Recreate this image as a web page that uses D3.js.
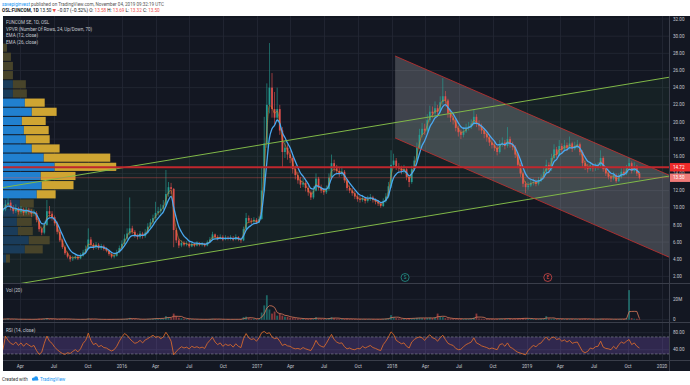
<!DOCTYPE html>
<html lang="en">
<head>
<meta charset="UTF-8">
<title>OSL:FUNCOM 1D</title>
<script src="https://d3js.org/d3.v7.min.js"></script>
<style>
  html, body { margin: 0; padding: 0; background: #fff; }
  svg { display: block; font-family: Roboto, "Open Sans", "DejaVu Sans", sans-serif; }
</style>
</head>
<body>
<svg id="chart" width="690" height="385"></svg>
<script>
// weekly bars, first bar is the week of 2015-02-13
const firstBar = "2015-02-13";
const firstOpen = 9.6;
const closes = [
  9.8,10.4,10.6,10.0,9.6,9.9,9.5,9.8,9.4,9.7,
  9.5,9.3,9.4,8.6,7.5,7.1,8.0,9.6,9.3,8.9,
  8.2,7.2,6.2,5.4,4.7,4.3,4.0,4.1,4.3,4.1,
  4.4,4.8,5.2,6.3,5.7,5.4,5.7,5.3,5.5,5.2,
  5.0,4.6,4.3,4.4,4.8,5.3,5.8,6.4,7.0,7.6,
  7.2,6.8,6.6,7.0,6.7,7.1,7.8,8.3,8.8,9.4,
  9.6,9.9,10.3,11.6,12.4,12.2,7.4,6.2,5.6,5.9,
  5.7,5.8,5.5,5.8,5.6,5.9,5.7,5.8,5.6,6.0,
  6.3,6.9,6.6,6.4,6.6,6.3,6.5,6.4,6.5,6.3,
  6.6,6.3,6.2,7.5,8.8,8.5,8.4,8.6,8.3,8.7,
  12.0,17.5,22.0,24.0,21.5,20.5,21.5,19.0,16.5,17.0,
  16.2,15.8,14.5,13.8,13.2,12.7,12.9,12.3,11.8,11.2,
  12.0,13.4,12.3,12.0,11.8,12.2,13.5,15.2,14.6,14.3,
  14.0,14.2,13.2,12.3,12.0,11.7,11.3,11.0,10.9,11.1,
  10.8,11.0,11.2,10.9,10.7,10.5,10.2,10.8,11.3,12.5,
  15.0,15.5,14.8,14.6,14.3,14.5,13.6,13.0,14.5,15.5,
  17.0,18.5,19.2,19.0,20.2,21.2,21.0,21.6,21.2,22.3,
  23.0,22.5,21.0,20.5,20.2,19.3,18.8,18.5,18.9,19.3,
  19.5,19.8,20.6,19.8,19.5,19.0,18.6,18.2,17.6,17.3,
  17.0,16.5,17.4,17.6,17.2,18.0,17.4,17.1,16.2,15.0,
  14.0,12.8,12.4,12.6,12.9,13.0,12.8,13.2,13.5,14.2,
  15.0,14.5,15.8,16.8,16.2,17.2,16.8,17.3,17.0,17.5,
  16.9,17.2,17.4,16.5,15.2,14.8,14.5,14.9,14.6,14.8,
  14.9,15.8,14.5,14.0,13.6,13.4,13.8,13.1,13.6,14.2,
  14.0,14.6,15.2,14.3,14.8,14.0,13.5
];
const highs = [
  10.3,10.9,11.3,10.9,10.3,10.4,10.1,10.2,10.0,10.1,
  10.0,9.8,9.8,9.6,8.8,7.8,8.4,10.9,10.2,9.6,
  9.1,8.4,7.4,6.4,5.6,4.9,4.5,4.4,4.6,4.5,
  4.7,5.1,5.6,7.6,6.6,5.9,6.0,5.9,5.8,5.7,
  5.4,5.1,4.8,4.7,5.1,5.6,6.2,6.9,7.6,11.2,
  7.9,7.4,7.0,7.3,7.2,7.5,8.2,8.7,9.2,10.7,
  10.1,10.4,10.9,14.4,13.0,12.9,12.3,7.6,6.4,6.2,
  6.1,6.1,6.0,6.0,5.9,6.1,6.0,6.0,5.9,6.2,
  6.6,7.2,7.0,6.8,6.9,6.8,6.8,6.7,6.8,6.7,
  6.9,6.7,6.5,7.8,9.4,9.1,8.8,8.9,8.8,9.0,
  14.7,20.6,24.5,29.2,25.7,23.5,24.0,22.0,19.4,17.8,
  17.4,16.7,16.0,14.9,14.2,13.6,13.5,13.2,12.6,12.0,
  12.5,14.0,13.6,12.7,12.3,12.6,14.0,16.2,15.6,15.0,
  14.7,14.8,14.4,13.4,12.6,12.3,12.0,11.6,11.4,11.5,
  11.3,11.4,11.6,11.4,11.1,10.9,10.7,11.1,11.7,13.0,
  16.7,16.3,15.8,15.2,14.9,15.0,14.7,13.8,14.9,16.0,
  17.6,19.2,19.9,19.8,20.9,21.9,21.8,22.4,22.0,23.0,
  25.1,23.6,22.7,21.4,21.0,20.4,19.6,19.1,19.4,19.8,
  20.0,20.3,21.4,20.9,20.2,19.8,19.3,18.9,18.5,18.0,
  17.7,17.2,17.9,18.2,17.9,19.4,18.3,17.7,17.3,16.4,
  15.2,14.2,13.1,13.0,13.3,13.4,13.3,13.6,13.9,14.7,
  15.6,15.3,16.3,17.4,17.1,17.9,17.5,17.9,17.6,18.3,
  17.7,17.7,17.9,17.6,16.7,15.5,15.1,15.3,15.2,15.2,
  15.3,16.7,16.0,14.8,14.3,13.9,14.2,14.0,14.0,14.6,
  14.6,15.0,15.8,15.4,15.3,15.0,14.1
];
const lows = [
  9.2,9.6,10.1,9.7,9.3,9.4,9.2,9.3,9.1,9.2,
  9.2,8.9,9.0,8.3,7.2,6.8,6.9,7.9,8.9,8.5,
  7.9,6.9,6.0,5.2,4.5,4.1,3.7,3.8,4.0,3.9,
  4.0,4.3,4.7,5.1,5.4,5.1,5.2,5.1,5.1,5.0,
  4.8,4.4,4.1,4.1,4.3,4.7,5.2,5.7,6.2,6.8,
  6.9,6.5,6.3,6.4,6.4,6.5,7.0,7.6,8.1,8.6,
  9.1,9.3,9.7,10.1,11.3,11.6,5.4,5.9,5.3,5.4,
  5.5,5.5,5.3,5.4,5.4,5.5,5.5,5.5,5.4,5.5,
  5.9,6.2,6.4,6.2,6.3,6.1,6.2,6.2,6.2,6.1,
  6.2,6.1,5.9,6.1,7.4,8.2,8.1,8.2,8.1,8.2,
  8.6,11.8,17.0,21.0,20.5,19.5,20.0,18.5,14.7,15.8,
  15.6,15.2,14.0,13.3,12.8,12.3,12.4,11.9,11.4,10.9,
  11.0,11.9,12.0,11.7,11.5,11.6,12.0,13.3,14.2,13.9,
  13.6,13.7,12.9,12.0,11.7,11.4,11.0,10.7,10.6,10.7,
  10.5,10.6,10.8,10.6,10.4,10.2,10.0,10.1,10.6,11.1,
  12.3,14.6,14.4,14.2,13.9,14.0,13.2,12.4,12.8,14.3,
  15.3,16.8,18.2,18.5,18.8,20.0,20.5,20.7,20.6,21.0,
  22.0,21.8,20.5,20.0,19.7,18.9,18.3,18.0,18.2,18.7,
  19.0,19.2,19.6,19.4,19.0,18.6,18.1,17.7,17.2,16.9,
  16.6,16.1,16.3,17.1,16.8,17.0,17.0,16.7,15.8,14.6,
  13.6,12.4,11.7,12.1,12.4,12.6,12.5,12.6,13.0,13.3,
  14.0,14.1,14.3,15.6,15.8,16.0,16.4,16.6,16.6,16.8,
  16.5,16.7,16.9,16.1,14.8,14.4,14.1,14.3,14.2,14.3,
  14.4,14.7,14.2,13.7,13.3,13.0,13.2,12.9,13.0,13.4,
  13.7,13.8,14.4,14.0,14.1,13.7,13.3
];
// volume in millions
const volumes = [
  0.6,0.8,1.0,0.6,0.5,0.6,0.4,0.5,0.4,0.5,
  0.4,0.4,0.4,0.7,0.9,0.8,0.9,1.5,0.8,0.6,
  0.6,0.7,0.8,0.9,0.7,0.6,0.5,0.4,0.4,0.3,
  0.4,0.5,0.5,1.2,0.7,0.5,0.4,0.4,0.4,0.3,
  0.3,0.4,0.5,0.4,0.4,0.5,0.6,0.8,0.9,1.8,
  0.8,0.6,0.5,0.5,0.5,0.6,0.8,0.9,1.0,1.5,
  1.1,1.2,1.4,3.5,2.5,1.5,6.0,3.5,2.0,1.4,
  1.0,0.8,0.7,0.6,0.5,0.5,0.4,0.4,0.4,0.5,
  0.6,0.9,0.6,0.5,0.5,0.4,0.4,0.4,0.4,0.4,
  0.5,0.4,0.5,2.5,3.0,1.5,1.0,0.9,0.8,1.0,
  7.0,14.0,24.0,10.0,6.0,8.0,4.0,6.0,4.0,3.0,
  3.0,2.0,2.0,1.5,1.2,1.0,1.0,1.0,0.9,1.2,
  1.0,2.5,1.2,0.9,0.8,0.9,1.5,2.5,1.5,1.0,
  0.9,0.8,1.0,1.0,0.8,0.7,0.7,0.6,0.6,0.7,
  0.6,0.6,0.6,0.5,0.5,0.6,0.6,0.8,1.0,1.5,
  4.5,2.5,1.5,1.2,1.0,1.0,1.2,1.5,1.3,1.5,
  1.8,2.0,1.6,1.5,1.8,2.0,1.6,2.0,6.0,3.0,
  2.5,1.5,1.3,1.2,1.0,1.0,0.9,0.9,0.8,0.9,
  1.0,1.2,2.0,6.0,1.2,1.0,0.9,0.8,0.9,0.8,
  0.7,0.8,1.0,1.0,0.9,1.2,1.0,0.8,1.0,1.2,
  1.3,1.5,1.4,1.0,0.9,0.8,0.8,0.9,1.0,1.2,
  3.5,1.2,1.0,1.1,0.9,0.9,0.8,0.8,0.8,0.9,
  0.8,0.7,0.7,0.8,1.0,0.9,0.7,0.6,0.6,0.6,
  0.6,0.9,0.8,0.6,0.6,0.5,0.6,0.6,0.6,0.7,
  0.7,1.2,29.0,1.5,1.0,0.9,0.8
];
const rsiValues = [
  40,72,62,55,52,58,50,56,48,55,
  51,47,50,38,29,34,55,72,60,55,
  46,40,35,31,29,33,31,36,40,35,
  42,55,62,79,62,52,55,47,50,45,
  44,40,37,40,48,60,70,78,74,66,
  60,55,57,62,56,63,66,70,74,69,
  71,66,70,81,72,60,28,36,42,47,
  44,46,42,48,45,47,44,46,43,55,
  62,69,58,52,56,48,53,50,52,46,
  54,48,45,66,78,68,64,66,60,68,
  80,83,78,80,70,66,68,60,50,53,
  49,48,44,42,43,41,45,42,40,38,
  48,62,52,48,46,55,66,76,64,58,
  55,56,47,42,44,41,40,43,42,48,
  44,47,50,45,43,40,38,52,60,70,
  82,76,62,58,54,56,48,44,58,64,
  68,70,68,62,70,75,68,66,60,68,
  74,64,55,52,50,43,40,41,47,52,
  55,58,68,56,53,49,47,45,42,44,
  42,40,52,54,48,56,46,43,38,34,
  32,30,28,38,45,50,47,53,56,64,
  70,62,68,70,64,66,60,63,58,62,
  55,57,58,47,36,33,36,44,42,47,
  48,60,46,43,42,40,48,42,52,58,
  55,60,64,52,56,48,44
];

// volume profile, 24 rows, top row first
const vpUp   = [0,0,0,0,10,10,22,29,19,21,23,29,41,52,38,39,34,17,14,14,15,26,22,3];
const vpDown = [4,8,10,10,13,14,20,25,24,25,24,28,67,62,35,32,19,14,16,15,15,21,18,4];
const vpRange = [3.55, 29.2];
const valueAreaPct = 0.70;

const timeTicks = ["2015-04-01","2015-07-01","2015-10-01","2016-01-01","2016-04-01","2016-07-01",
  "2016-10-01","2017-01-01","2017-04-01","2017-07-01","2017-10-01","2018-01-01","2018-04-01",
  "2018-07-01","2018-10-01","2019-01-01","2019-04-01","2019-07-01","2019-10-01","2020-01-01"];
const priceTicks = [2,4,6,8,10,12,14,16,18,20,22,24,26,28,30,32];
const volTicks = [0, 20];
const rsiTicks = [40, 80];

// drawings: [date, price]
const greenUpper = [["2016-01-01", 14.65], ["2019-01-01", 22.47]];
const greenLower = [["2016-01-01", 3.13], ["2019-01-01", 10.95]];
const redUpper = [["2018-01-09", 27.69], ["2019-01-01", 21.0]];
const redLower = [["2018-01-09", 18.13], ["2019-01-01", 11.44]];
const levelLine = 14.72;
const events = [["2018-02-05", "S"], ["2019-02-26", "E"]];
const quote = { open: 13.58, high: 13.69, low: 13.32, close: 13.50, change: -0.07, pct: -0.52 };

const svg = d3.select("#chart");
const L = 3, R = 669, W = 690;
const mainTop = 16, mainBot = 283, volBot = 322, rsiBot = 360, axisBot = 371;
const bg = "#131722", grid = "#242835", txt = "#c5c8d0";
const up = "#26a69a", down = "#ef5350";

const parse = d3.utcParse("%Y-%m-%d");
const start = parse(firstBar);
const bars = closes.map((c, i) => ({
  date: d3.utcDay.offset(start, 7 * i),
  open: i ? closes[i - 1] : firstOpen,
  close: c, high: highs[i], low: lows[i], vol: volumes[i], rsi: rsiValues[i]
}));

const x = d3.scaleUtc().domain([parse("2015-01-01"), parse("2020-01-01")]).range([-13, 662]);
const y = d3.scaleLinear().domain([2, 32]).range([276.4, 19]);
const yVol = d3.scaleLinear().domain([0, 20]).range([319.7, 299.3]);
const yRsi = d3.scaleLinear().domain([40, 80]).range([349.7, 332.7]);

// background
svg.append("rect").attr("x", L).attr("y", mainTop).attr("width", W - L).attr("height", axisBot - mainTop).attr("fill", bg);

const defs = svg.append("defs");
[["clipMain", mainTop, mainBot], ["clipVol", mainBot, volBot], ["clipRsi", volBot, rsiBot]].forEach(([id, t, b]) => {
  defs.append("clipPath").attr("id", id).append("rect").attr("x", L).attr("y", t).attr("width", R - L).attr("height", b - t);
});

// grid
const g = svg.append("g").attr("stroke", grid).attr("stroke-width", 0.8);
timeTicks.forEach(t => {
  const xx = Math.round(x(parse(t))) + 0.5;
  g.append("line").attr("x1", xx).attr("x2", xx).attr("y1", mainTop).attr("y2", rsiBot);
});
priceTicks.forEach(p => g.append("line").attr("x1", L).attr("x2", R).attr("y1", y(p)).attr("y2", y(p)));
volTicks.forEach(v => g.append("line").attr("x1", L).attr("x2", R).attr("y1", yVol(v)).attr("y2", yVol(v)));
rsiTicks.forEach(v => g.append("line").attr("x1", L).attr("x2", R).attr("y1", yRsi(v)).attr("y2", yRsi(v)));

// pane separators and price axis border
const sep = svg.append("g").attr("stroke", "#3a3e4a").attr("stroke-width", 1);
[mainBot, volBot, rsiBot].forEach(yy => sep.append("line").attr("x1", L).attr("x2", W).attr("y1", yy + 0.5).attr("y2", yy + 0.5));
sep.append("line").attr("x1", R + 0.5).attr("x2", R + 0.5).attr("y1", mainTop).attr("y2", axisBot);

const main = svg.append("g").attr("clip-path", "url(#clipMain)");

function across(pts, from) {
  const [a, b] = pts.map(p => [x(parse(p[0])), y(p[1])]);
  const k = (b[1] - a[1]) / (b[0] - a[0]);
  const x0 = from === undefined ? L : from;
  return [[x0, a[1] + k * (x0 - a[0])], [R, a[1] + k * (R - a[0])]];
}

// ascending channel
const gU = across(greenUpper), gL = across(greenLower);
main.append("path").attr("d", d3.line()([gU[0], gU[1], gL[1], gL[0]]) + "Z").attr("fill", "rgba(76,175,80,0.07)");
// descending channel
const rStart = x(parse(redUpper[0][0]));
const rU = across(redUpper, rStart), rL = across(redLower, rStart);
main.append("path").attr("d", d3.line()([rU[0], rU[1], rL[1], rL[0]]) + "Z").attr("fill", "rgba(205,208,215,0.24)");

// volume profile
const rows = vpUp.length;
const rowH = (vpRange[1] - vpRange[0]) / rows;
const totals = vpUp.map((u, i) => u + vpDown[i]);
const poc = totals.indexOf(d3.max(totals));
let lo = poc, hi = poc, acc = totals[poc];
const target = d3.sum(totals) * valueAreaPct;
while (acc < target) {
  const above = lo > 0 ? totals[lo - 1] : -1, below = hi < rows - 1 ? totals[hi + 1] : -1;
  if (above >= below) { lo--; acc += above; } else { hi++; acc += below; }
}
const vx = d3.scaleLinear().domain([0, d3.max(totals)]).range([0, 0.17 * (R - L)]);
const vp = main.append("g");
totals.forEach((t, i) => {
  const top = vpRange[1] - i * rowH;
  const y0 = y(top) + 0.5, h = y(top - rowH) - y(top) - 1;
  const inVA = i >= lo && i <= hi;
  vp.append("rect").attr("x", L).attr("y", y0).attr("width", vx(vpUp[i])).attr("height", h)
    .attr("fill", inVA ? "#2180cf" : "#1a3c5a");
  vp.append("rect").attr("x", L + vx(vpUp[i])).attr("y", y0).attr("width", vx(vpDown[i])).attr("height", h)
    .attr("fill", inVA ? "#cfa532" : "#48442a");
});

// candles
const cg = main.append("g");
cg.selectAll("line").data(bars).join("line")
  .attr("x1", d => x(d.date)).attr("x2", d => x(d.date))
  .attr("y1", d => y(d.high)).attr("y2", d => y(d.low))
  .attr("stroke", d => d.close >= d.open ? up : down).attr("stroke-width", 0.7).attr("opacity", 0.85);
cg.selectAll("rect").data(bars).join("rect")
  .attr("x", d => x(d.date) - 0.9).attr("width", 1.8)
  .attr("y", d => y(Math.max(d.open, d.close)))
  .attr("height", d => Math.max(0.6, Math.abs(y(d.open) - y(d.close))))
  .attr("fill", d => d.close >= d.open ? up : down).attr("opacity", 0.85);

// EMAs (12 and 26 daily periods on weekly bars)
function ema(vals, span) {
  const a = 2 / (span + 1);
  let e = vals[0];
  return vals.map(v => (e = e + a * (v - e)));
}
const ema12 = ema(closes, 12 / 5), ema26 = ema(closes, 26 / 5);
const priceLine = d3.line().x((d, i) => x(bars[i].date)).y(d => y(d)).curve(d3.curveMonotoneX);
main.append("path").attr("d", priceLine(ema12)).attr("fill", "none").attr("stroke", "#e3822c").attr("stroke-width", 0.8).attr("opacity", 0.75);
main.append("path").attr("d", priceLine(ema26)).attr("fill", "none").attr("stroke", "#4aa8f0").attr("stroke-width", 1.3);

// channel lines
[gU, gL].forEach(s => main.append("path").attr("d", d3.line()(s)).attr("stroke", "#80b848").attr("stroke-width", 1).attr("fill", "none"));
[rU, rL].forEach(s => main.append("path").attr("d", d3.line()(s)).attr("stroke", "#c8302e").attr("stroke-width", 0.8).attr("fill", "none"));

// horizontal levels
main.append("line").attr("x1", L).attr("x2", R).attr("y1", y(levelLine)).attr("y2", y(levelLine))
  .attr("stroke", "#c0272d").attr("stroke-width", 1.8);
main.append("line").attr("x1", L).attr("x2", R).attr("y1", y(quote.close)).attr("y2", y(quote.close))
  .attr("stroke", "rgba(239,83,80,0.55)").attr("stroke-width", 0.7);

// events
events.forEach(([d, label]) => {
  const c = label === "S" ? up : down;
  const ex = x(parse(d)), ey = mainBot - 5.5;
  svg.append("circle").attr("cx", ex).attr("cy", ey).attr("r", 4).attr("fill", bg).attr("stroke", c).attr("stroke-width", 0.7);
  svg.append("text").attr("x", ex).attr("y", ey + 1.6).attr("text-anchor", "middle").attr("font-size", 4.5).attr("fill", c).text(label);
});

// volume pane
const vg = svg.append("g").attr("clip-path", "url(#clipVol)");
vg.selectAll("rect").data(bars).join("rect")
  .attr("x", d => x(d.date) - 0.9).attr("width", 1.8)
  .attr("y", d => yVol(d.vol)).attr("height", d => yVol(0) - yVol(d.vol))
  .attr("fill", d => d.close >= d.open ? "rgba(38,166,154,0.55)" : "rgba(239,83,80,0.55)");
const volMA = volumes.map((v, i) => d3.mean(volumes.slice(Math.max(0, i - 3), i + 1)));
vg.append("path").attr("d", d3.line().x((d, i) => x(bars[i].date)).y(d => yVol(d))(volMA))
  .attr("fill", "none").attr("stroke", "#d9795a").attr("stroke-width", 0.8);

// RSI pane
const rg = svg.append("g").attr("clip-path", "url(#clipRsi)");
rg.append("rect").attr("x", L).attr("width", R - L).attr("y", yRsi(70)).attr("height", yRsi(30) - yRsi(70)).attr("fill", "rgba(126,87,194,0.28)");
[70, 30].forEach(v => rg.append("line").attr("x1", L).attr("x2", R).attr("y1", yRsi(v)).attr("y2", yRsi(v))
  .attr("stroke", "#8a8d98").attr("stroke-width", 0.6).attr("stroke-dasharray", "2.5,1.5"));
rg.append("path").attr("d", d3.line().x((d, i) => x(bars[i].date)).y(d => yRsi(d))(rsiValues))
  .attr("fill", "none").attr("stroke", "#e8702a").attr("stroke-width", 0.8);

// axes text
const fs = 4.6;
const axisText = svg.append("g").attr("font-size", fs).attr("fill", txt);
priceTicks.forEach(p => axisText.append("text").attr("x", 673).attr("y", y(p) + 1.6).text(d3.format(".2f")(p)));
volTicks.forEach(v => axisText.append("text").attr("x", 673).attr("y", yVol(v) + 1.6).text(v ? v + "M" : "0"));
rsiTicks.forEach(v => axisText.append("text").attr("x", 673).attr("y", yRsi(v) + 1.6).text(d3.format(".2f")(v)));
timeTicks.forEach(t => {
  const d = parse(t);
  axisText.append("text").attr("x", x(d)).attr("y", 367.5).attr("text-anchor", "middle")
    .text(d.getUTCMonth() === 0 ? d3.utcFormat("%Y")(d) : d3.utcFormat("%b")(d));
});

// price labels
[[levelLine, "#ee2a2a"], [quote.close, "#f07a78"]].forEach(([p, c]) => {
  svg.append("rect").attr("x", R + 1).attr("y", y(p) - 4.2).attr("width", W - R - 1).attr("height", 8.4).attr("fill", c);
  svg.append("text").attr("x", 673).attr("y", y(p) + 1.6).attr("font-size", fs).attr("fill", "#fff").text(d3.format(".2f")(p));
});

// legends
const leg = svg.append("g").attr("font-size", fs).attr("fill", txt);
["FUNCOM SE, 1D, OSL", "VPVR (Number Of Rows, 24, Up/Down, 70)", "EMA (12, close)", "EMA (26, close)"]
  .forEach((s, i) => leg.append("text").attr("x", 6).attr("y", 24.3 + i * 6.5).text(s));
leg.append("text").attr("x", 6).attr("y", 291.5).text("Vol (20)");
leg.append("text").attr("x", 6).attr("y", 331.5).text("RSI (14, close)");

// header
const h1 = svg.append("text").attr("x", 2).attr("y", 5.8).attr("font-size", fs).attr("fill", "#555");
h1.append("tspan").attr("fill", "#2196f3").text("savepiginvest");
h1.append("tspan").text(" published on TradingView.com, November 04, 2019 09:32:19 UTC");
const h2 = svg.append("text").attr("x", 2).attr("y", 12.3).attr("font-size", fs).attr("fill", "#131722");
const f2 = d3.format(".2f");
h2.append("tspan").attr("font-weight", "bold").text("OSL:FUNCOM, 1D");
h2.append("tspan").text(" " + f2(quote.close) + " ");
h2.append("tspan").attr("fill", down).text("▼");
h2.append("tspan").text(" \u2212" + f2(-quote.change) + " (\u2212" + f2(-quote.pct) + "%) O:");
h2.append("tspan").attr("fill", down).text(" " + f2(quote.open));
h2.append("tspan").text(" H:");
h2.append("tspan").attr("fill", down).text(" " + f2(quote.high));
h2.append("tspan").text(" L:");
h2.append("tspan").attr("fill", down).text(" " + f2(quote.low));
h2.append("tspan").text(" C:");
h2.append("tspan").attr("fill", down).text(" " + f2(quote.close));

// footer
svg.append("text").attr("x", 2).attr("y", 380.5).attr("font-size", fs).attr("fill", "#333").text("Created with");
const logo = svg.append("g").attr("fill", "#2196f3");
logo.append("circle").attr("cx", 33.5).attr("cy", 379).attr("r", 1.6);
logo.append("circle").attr("cx", 36).attr("cy", 378.2).attr("r", 2);
logo.append("rect").attr("x", 32).attr("y", 379).attr("width", 6.5).attr("height", 1.6).attr("rx", 0.8);
svg.append("text").attr("x", 40).attr("y", 380.5).attr("font-size", fs).attr("fill", "#2196f3").text("TradingView");
</script>
</body>
</html>
